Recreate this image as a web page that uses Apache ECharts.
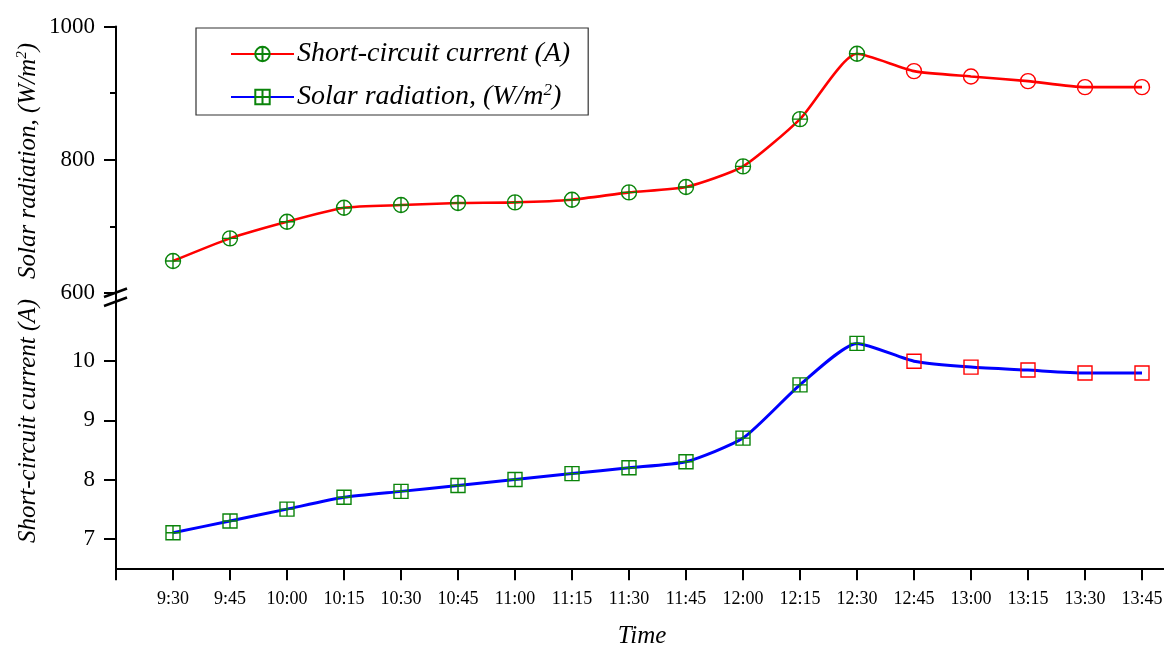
<!DOCTYPE html>
<html>
<head>
<meta charset="utf-8">
<script src="https://cdn.jsdelivr.net/npm/echarts@6/dist/echarts.min.js"></script>
<style>
  html, body { margin: 0; padding: 0; background: #fff; }
  #chart { width: 1164px; height: 648px; }
</style>
</head>
<body>
<div id="chart"></div>
<script>
// Time of day for each reading
const timeLabels = ['9:30', '9:45', '10:00', '10:15', '10:30', '10:45', '11:00', '11:15', '11:30',
                    '11:45', '12:00', '12:15', '12:30', '12:45', '13:00', '13:15', '13:30', '13:45'];
// Upper panel readings (W/m2 scale)
const radiationValues = [648, 682, 707, 728, 732, 735, 736, 740, 751, 759, 790, 861, 959, 933, 925, 918, 909, 909];
// Lower panel readings (A scale)
const currentValues = [7.1, 7.3, 7.5, 7.7, 7.8, 7.9, 8.0, 8.1, 8.2, 8.3, 8.7, 9.6, 10.3, 10.0, 9.9, 9.85, 9.8, 9.8];
// Readings up to this index are drawn with green cross markers, later ones with plain red markers
const lastGreenIndex = 12;

const SERIF = '"Liberation Serif", "Times New Roman", serif';
const GREEN = '#0a840a';
const RED = '#ff0000';
const BLUE = '#0000ff';

const circleCross = 'path://M0 10 A10 10 0 1 1 20 10 A10 10 0 1 1 0 10 Z M10 0 L10 20 M0 10 L20 10';
const circlePlain = 'path://M0 10 A10 10 0 1 1 20 10 A10 10 0 1 1 0 10 Z';
const squareCross = 'path://M0 0 L20 0 L20 20 L0 20 Z M10 0 L10 20 M0 10 L20 10';
const squarePlain = 'path://M0 0 L20 0 L20 20 L0 20 Z';

function buildPoints(values, greenSymbol, redSymbol) {
  return values.map((v, i) => {
    const green = i <= lastGreenIndex;
    return {
      value: [i, v],
      symbol: green ? greenSymbol : redSymbol,
      itemStyle: { color: 'transparent', borderColor: green ? GREEN : RED, borderWidth: 1.4 }
    };
  });
}

const chart = echarts.init(document.getElementById('chart'), null, { renderer: 'canvas' });

const xBase = {
  type: 'value', min: -1, max: 18, interval: 1,
  splitLine: { show: false }
};

const axisLineStyle = { show: true, onZero: false, lineStyle: { color: '#000', width: 2 } };

// the time axis runs past the right edge of the canvas, so the plot is not shrunk to fit it
const option = {
  backgroundColor: '#fff',
  animation: false,
  grid: [
    { left: 116, top: 26.5, height: 266.5, width: 1083, outerBoundsMode: 'none', containLabel: false },
    { left: 116, top: 302, height: 266.3, width: 1083, outerBoundsMode: 'none', containLabel: false }
  ],
  xAxis: [
    Object.assign({}, xBase, { gridIndex: 0, show: false }),
    Object.assign({}, xBase, {
      gridIndex: 1,
      position: 'bottom',
      axisLine: axisLineStyle,
      axisTick: { show: true, inside: false, length: 12, lineStyle: { color: '#000', width: 2 } },
      axisLabel: {
        margin: 22,
        color: '#000',
        fontFamily: SERIF,
        fontSize: 18,
        formatter: v => (Number.isInteger(v) && v >= 0 && v < timeLabels.length) ? timeLabels[v] : ''
      }
    })
  ],
  yAxis: [
    {
      type: 'value', gridIndex: 0, min: 600, max: 1000, interval: 200,
      axisLine: axisLineStyle,
      axisTick: { show: true, inside: false, length: 12, lineStyle: { color: '#000', width: 2 } },
      minorTick: { show: true, splitNumber: 2, length: 6, lineStyle: { color: '#000', width: 2 } },
      splitLine: { show: false },
      axisLabel: { margin: 21, color: '#000', fontFamily: SERIF, fontSize: 23, formatter: v => String(v) }
    },
    {
      type: 'value', gridIndex: 1, min: 6.5, max: 11,
      axisLine: axisLineStyle,
      axisTick: { show: true, inside: false, length: 12, customValues: [7, 8, 9, 10],
                  lineStyle: { color: '#000', width: 2 } },
      splitLine: { show: false },
      axisLabel: { margin: 21, color: '#000', fontFamily: SERIF, fontSize: 23, customValues: [7, 8, 9, 10],
                   formatter: v => String(v) }
    }
  ],
  legend: {
    left: 196, top: 28,
    orient: 'vertical',
    padding: [12, 18, 4, 34],
    itemGap: 14,
    itemWidth: 63,
    itemHeight: 18,
    borderColor: '#333',
    borderWidth: 1.2,
    textStyle: {
      color: '#000', fontFamily: SERIF, fontStyle: 'italic', fontSize: 28, padding: [0, 0, 0, -2],
      rich: {
        t: { fontFamily: SERIF, fontStyle: 'italic', fontSize: 28, color: '#000' },
        s: { fontFamily: SERIF, fontStyle: 'italic', fontSize: 17, color: '#000', verticalAlign: 'top', lineHeight: 30 }
      }
    },
    formatter: name => name.indexOf('Solar') === 0 ? '{t|Solar radiation, (W/m}{s|2}{t|)}' : '{t|' + name + '}',
    data: ['Short-circuit current (A)', 'Solar radiation, (W/m2)']
  },
  series: [
    {
      name: 'Short-circuit current (A)',
      type: 'line',
      xAxisIndex: 0, yAxisIndex: 0,
      smooth: 0.2,
      symbol: circleCross,
      symbolSize: 15,
      itemStyle: { color: 'transparent', borderColor: GREEN, borderWidth: 1.4 },
      lineStyle: { color: RED, width: 2.6 },
      data: buildPoints(radiationValues, circleCross, circlePlain),
      z: 3
    },
    {
      name: 'Solar radiation, (W/m2)',
      type: 'line',
      xAxisIndex: 1, yAxisIndex: 1,
      smooth: 0.2,
      symbol: squareCross,
      symbolSize: 14,
      itemStyle: { color: 'transparent', borderColor: GREEN, borderWidth: 1.4 },
      lineStyle: { color: BLUE, width: 3 },
      data: buildPoints(currentValues, squareCross, squarePlain),
      z: 3
    }
  ],
  graphic: [
    // vertical axis titles
    {
      type: 'text', x: 28, y: 161, rotation: Math.PI / 2, z: 10,
      style: {
        text: '{t|Solar radiation, (W/m}{s|2}{t|)}',
        align: 'center', verticalAlign: 'middle',
        rich: {
          t: { fontFamily: SERIF, fontStyle: 'italic', fontSize: 25, fill: '#000' },
          s: { fontFamily: SERIF, fontStyle: 'italic', fontSize: 15, fill: '#000', verticalAlign: 'top', lineHeight: 26 }
        }
      }
    },
    {
      type: 'text', x: 28, y: 421, rotation: Math.PI / 2, z: 10,
      style: {
        text: 'Short-circuit current (A)',
        align: 'center', verticalAlign: 'middle',
        font: 'italic 25px ' + SERIF, fill: '#000'
      }
    },
    // horizontal axis title
    {
      type: 'text', x: 642, y: 636, z: 10,
      style: {
        text: 'Time', align: 'center', verticalAlign: 'middle',
        font: 'italic 25px ' + SERIF, fill: '#000'
      }
    },
    // axis line through the break
    { type: 'line', z: 10, shape: { x1: 116, y1: 292, x2: 116, y2: 303 }, style: { stroke: '#000', lineWidth: 2 } },
    // break marks
    { type: 'line', z: 11, shape: { x1: 104, y1: 297, x2: 127, y2: 288.5 }, style: { stroke: '#000', lineWidth: 2.4 } },
    { type: 'line', z: 11, shape: { x1: 104, y1: 306, x2: 127, y2: 297.5 }, style: { stroke: '#000', lineWidth: 2.4 } }
  ]
};

chart.setOption(option);
</script>
</body>
</html>
